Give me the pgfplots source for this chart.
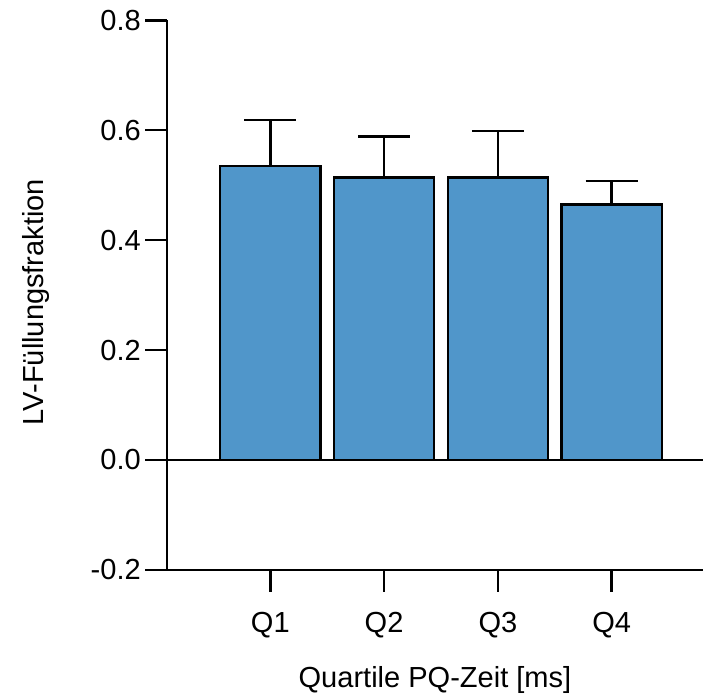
\documentclass[border=0pt]{standalone}
\usepackage{pgfplots}
\pgfplotsset{compat=1.18}
\usepackage{fontspec}
\setmainfont{Liberation Sans}
\definecolor{barblue}{RGB}{80,150,202}
\begin{document}
\begin{tikzpicture}
\begin{axis}[
  scale only axis,
  width=267.5pt, height=274.5pt,
  xmin=0.094, xmax=4.8,
  ymin=-0.2, ymax=0.8,
  axis x line=bottom, axis y line=left,
  axis line style={black, line width=1.25pt, -},
  xtick={1,2,3,4},
  xticklabels={Q1,Q2,Q3,Q4},
  ytick={-0.2,0,0.2,0.4,0.6,0.8},
  yticklabel style={/pgf/number format/fixed, /pgf/number format/fixed zerofill, /pgf/number format/precision=1, inner xsep=2pt, inner ysep=5pt},
  xticklabel style={inner sep=2pt, yshift=-8pt},
  /pgf/number format/assume math mode=true,
  tick align=outside,
  major tick length=11pt,
  tick style={black, line width=1.25pt},
  ticklabel style={font=\fontsize{14.5}{17}\selectfont},
  label style={font=\fontsize{14.5}{17}\selectfont},
  xlabel={Quartile PQ-Zeit [ms]},
  ylabel={LV-Füllungsfraktion},
  ylabel style={at={([xshift=-62pt,yshift=-3.5pt]axis description cs:0,0.5)}, anchor=base, inner ysep=11pt},
  xlabel style={inner sep=0pt, yshift=-11.8pt},
  clip=false,
]
\addplot[ybar, bar width=50pt, fill=barblue, draw=black, line width=1.25pt,
  error bars/.cd, y dir=plus, y explicit,
  error bar style={line width=1.25pt, black},
  error mark options={mark size=13pt, line width=1.25pt, black, rotate=90}]
  coordinates {
  (1,0.535) +- (0,0.084)
  (2,0.514) +- (0,0.075)
  (3,0.514) +- (0,0.085)
  (4,0.465) +- (0,0.043)
};
\addplot[black, line width=1.25pt] coordinates {(0.094,0) (4.8,0)};
\end{axis}
\end{tikzpicture}
\end{document}
